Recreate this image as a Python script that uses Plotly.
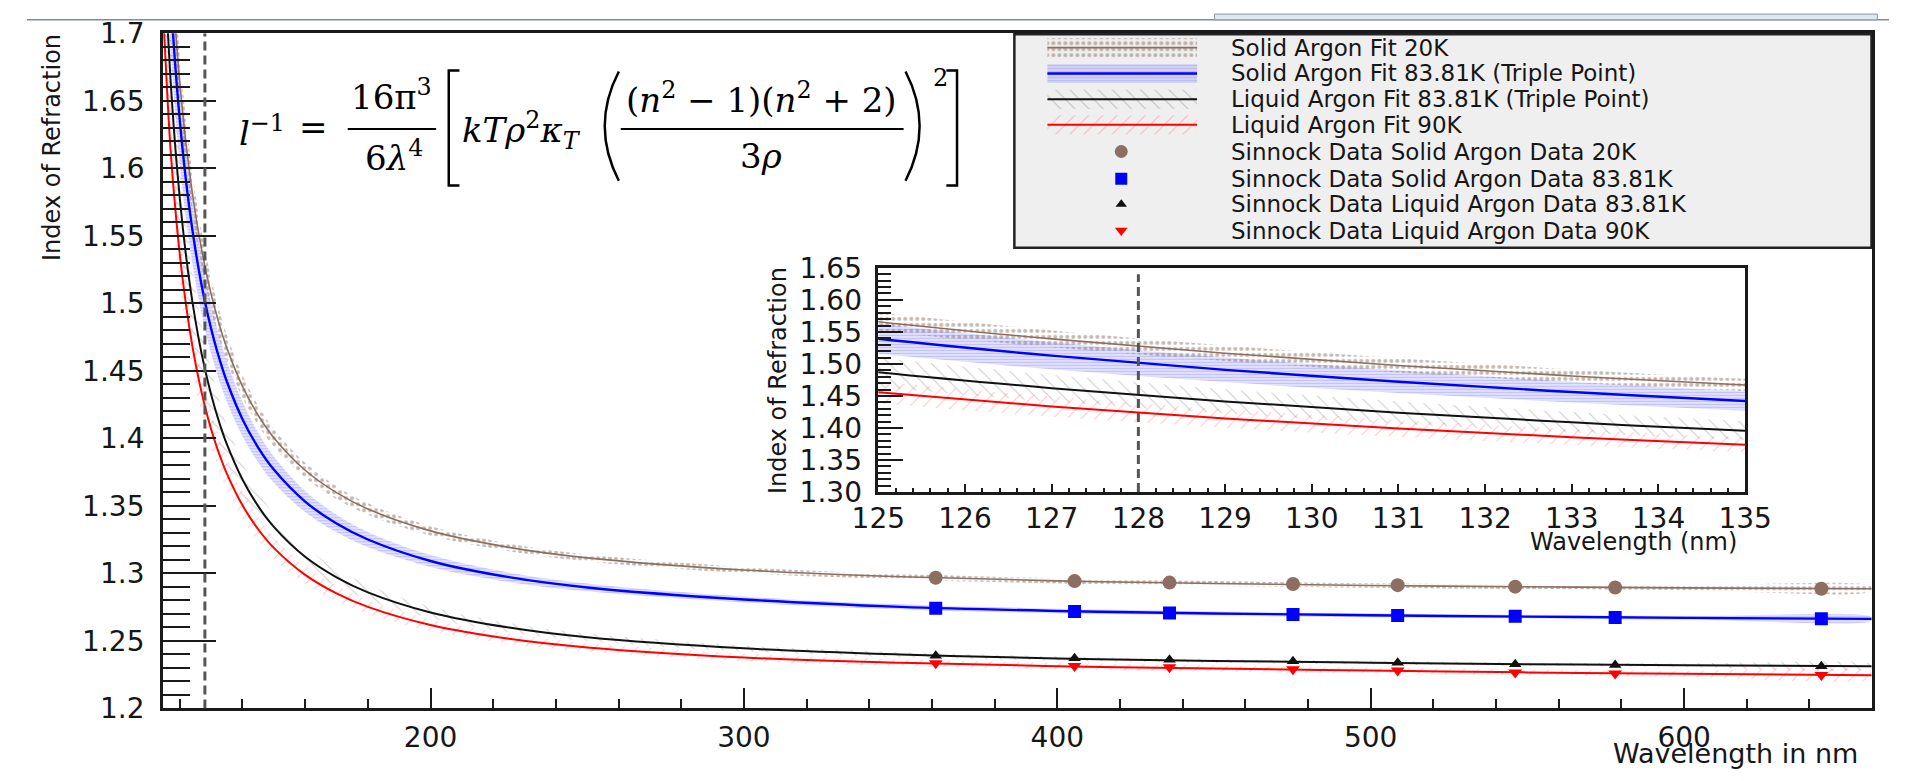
import plotly.graph_objects as go

W, H = 1916, 781

# ---------------------------------------------------------------------------
# Fitted index of refraction curves (nm, n) and their uncertainty half-widths
# ---------------------------------------------------------------------------
wavelength = [114, 115, 117, 119, 121, 123, 125, 127, 129, 131, 133, 135, 140, 145, 150,
              160, 170, 180, 200, 225, 250, 300, 350, 400, 450, 500, 550, 600, 660]

fit_solid_20k = [1.9216, 1.8573, 1.7609, 1.6917, 1.6395, 1.5988, 1.5660, 1.5392, 1.5167, 1.4976,
                 1.4812, 1.4670, 1.4385, 1.4171, 1.4005, 1.3764, 1.3598, 1.3477, 1.3315, 1.3193,
                 1.3115, 1.3025, 1.2975, 1.2945, 1.2925, 1.2911, 1.2901, 1.2893, 1.2886]
fit_solid_triple = [1.8882, 1.8252, 1.7305, 1.6626, 1.6114, 1.5714, 1.5393, 1.5129, 1.4908, 1.4721,
                    1.4561, 1.4421, 1.4142, 1.3932, 1.3769, 1.3532, 1.3369, 1.3251, 1.3092, 1.2972,
                    1.2896, 1.2807, 1.2752, 1.2722, 1.2703, 1.2690, 1.2680, 1.2671, 1.2663]
fit_liquid_triple = [1.8160, 1.7564, 1.6671, 1.6031, 1.5549, 1.5172, 1.4870, 1.4622, 1.4415, 1.4239,
                     1.4088, 1.3957, 1.3695, 1.3498, 1.3345, 1.3123, 1.2971, 1.2860, 1.2711, 1.2599,
                     1.2527, 1.2445, 1.2399, 1.2370, 1.2352, 1.2339, 1.2328, 1.2320, 1.2312]
fit_liquid_90k = [1.7456, 1.7000, 1.6153, 1.5588, 1.5161, 1.4826, 1.4556, 1.4335, 1.4149, 1.3992,
                  1.3857, 1.3739, 1.3504, 1.3327, 1.3189, 1.2989, 1.2852, 1.2752, 1.2618, 1.2516,
                  1.2452, 1.2377, 1.2338, 1.2313, 1.2295, 1.2281, 1.2267, 1.2257, 1.2246]

err_solid_20k = [0.0348, 0.0308, 0.0251, 0.0212, 0.0184, 0.0163, 0.0146, 0.0132, 0.0121, 0.0111,
                 0.0103, 0.0097, 0.0083, 0.0073, 0.0065, 0.0055, 0.0047, 0.0042, 0.0035, 0.0029,
                 0.0026, 0.0022, 0.0020, 0.0019, 0.0018, 0.0017, 0.0017, 0.0017, 0.0016]
err_solid_triple = [0.0583, 0.0515, 0.0417, 0.0350, 0.0301, 0.0264, 0.0235, 0.0211, 0.0192, 0.0176,
                    0.0162, 0.0150, 0.0127, 0.0110, 0.0097, 0.0078, 0.0065, 0.0056, 0.0044, 0.0035,
                    0.0029, 0.0022, 0.0019, 0.0017, 0.0015, 0.0014, 0.0013, 0.0013, 0.0012]
err_liquid_triple = [0.0576, 0.0509, 0.0412, 0.0346, 0.0297, 0.0261, 0.0232, 0.0209, 0.0190, 0.0174,
                     0.0160, 0.0149, 0.0126, 0.0109, 0.0096, 0.0077, 0.0065, 0.0056, 0.0043, 0.0034,
                     0.0029, 0.0022, 0.0019, 0.0016, 0.0015, 0.0014, 0.0013, 0.0013, 0.0012]
err_liquid_90k = [0.0403, 0.0359, 0.0295, 0.0250, 0.0218, 0.0193, 0.0174, 0.0158, 0.0145, 0.0134,
                  0.0124, 0.0116, 0.0101, 0.0089, 0.0080, 0.0067, 0.0058, 0.0052, 0.0043, 0.0037,
                  0.0033, 0.0029, 0.0026, 0.0025, 0.0024, 0.0023, 0.0022, 0.0022, 0.0022]

# Sinnock measurements
sinnock_wavelength = [361.2, 405.5, 435.8, 475.2, 508.6, 546.1, 578.0, 643.8]
sinnock_solid_20k = [1.2968, 1.2943, 1.2932, 1.2922, 1.2913, 1.2902, 1.2896, 1.2886]
sinnock_solid_triple = [1.2742, 1.2718, 1.2707, 1.2695, 1.2688, 1.2682, 1.2673, 1.2665]
sinnock_liquid_triple = [1.2390, 1.2372, 1.2361, 1.2349, 1.2339, 1.2328, 1.2321, 1.2313]
sinnock_liquid_90k = [1.2334, 1.2315, 1.2305, 1.2291, 1.2281, 1.2267, 1.2259, 1.2247]

fit_labels = ["Solid Argon Fit 20K", "Solid Argon Fit 83.81K (Triple Point)",
              "Liquid Argon Fit 83.81K (Triple Point)", "Liquid Argon Fit 90K"]
data_labels = ["Sinnock Data Solid Argon Data 20K", "Sinnock Data Solid Argon Data 83.81K",
               "Sinnock Data Liquid Argon Data 83.81K", "Sinnock Data Liquid Argon Data 90K"]

BROWN = "#8c6f60"
BLUE = "#0000ff"
BLACK = "#111111"
RED = "#ff0000"
TXT = "#161616"
SANS = "DejaVu Sans"
SERIF = "DejaVu Serif"


def xp(x):
    return x / W


def yp(y):
    return 1 - y / H


fits = [
    dict(fit=fit_solid_triple, err=err_solid_triple, color=BLUE, lw=2.4,
         pattern=dict(shape="-", fgcolor="rgba(70,70,255,0.5)", bgcolor="rgba(120,120,255,0.18)",
                      size=3, solidity=0.45)),
    dict(fit=fit_solid_20k, err=err_solid_20k, color=BROWN, lw=1.6,
         pattern=dict(shape=".", fgcolor=BROWN, bgcolor="rgba(0,0,0,0)", size=6, solidity=0.35)),
    dict(fit=fit_liquid_triple, err=err_liquid_triple, color=BLACK, lw=2.0,
         pattern=dict(shape="\\", fgcolor="rgba(0,0,0,0.4)", bgcolor="rgba(0,0,0,0)", size=10, solidity=0.1)),
    dict(fit=fit_liquid_90k, err=err_liquid_90k, color=RED, lw=2.0,
         pattern=dict(shape="/", fgcolor="rgba(255,0,0,0.45)", bgcolor="rgba(0,0,0,0)", size=10, solidity=0.1)),
]

fig = go.Figure()

for xa, ya in (("x", "y"), ("x2", "y2")):
    for s in fits:
        upper = [v + e for v, e in zip(s["fit"], s["err"])]
        lower = [v - e for v, e in zip(s["fit"], s["err"])]
        fig.add_trace(go.Scatter(
            x=wavelength + wavelength[::-1], y=upper + lower[::-1],
            xaxis=xa, yaxis=ya, mode="lines", fill="toself",
            line=dict(width=0, shape="spline"), fillpattern=s["pattern"],
            hoverinfo="skip", showlegend=False))
    for s in fits:
        fig.add_trace(go.Scatter(
            x=wavelength, y=s["fit"], xaxis=xa, yaxis=ya, mode="lines",
            line=dict(color=s["color"], width=s["lw"], shape="spline"), showlegend=False))

markers = [
    (sinnock_solid_20k, "circle", BROWN, 14),
    (sinnock_solid_triple, "square", BLUE, 13),
    (sinnock_liquid_triple, "triangle-up", BLACK, 11),
    (sinnock_liquid_90k, "triangle-down", RED, 12),
]
for vals, sym, col, size in markers:
    fig.add_trace(go.Scatter(
        x=sinnock_wavelength, y=vals, mode="markers",
        marker=dict(symbol=sym, color=col, size=size, line=dict(width=0)),
        showlegend=False))

# ---------------------------------------------------------------------------
# Legend box, drawn on its own pixel-scaled helper axes
# ---------------------------------------------------------------------------
LEG_L, LEG_R, LEG_T, LEG_B = 1016, 1898, 19, 242
rows = [33, 60, 87, 113.5, 141.5, 170, 196.5, 224]
sw_l, sw_r, sw_c = 1050, 1204, 1126

legend_fits = [fits[1], fits[0], fits[2], fits[3]]
for r, s in zip(rows[:4], legend_fits):
    fig.add_trace(go.Scatter(
        x=[sw_l, sw_r, sw_r, sw_l, sw_l], y=[r - 10, r - 10, r + 10, r + 10, r - 10],
        xaxis="x3", yaxis="y3", mode="lines", fill="toself", line=dict(width=0),
        fillpattern=s["pattern"], hoverinfo="skip", showlegend=False))
    fig.add_trace(go.Scatter(
        x=[sw_l, sw_r], y=[r, r], xaxis="x3", yaxis="y3", mode="lines",
        line=dict(color=s["color"], width=s["lw"]), showlegend=False))
for r, (vals, sym, col, size) in zip(rows[4:], markers):
    fig.add_trace(go.Scatter(
        x=[sw_c], y=[r], xaxis="x3", yaxis="y3", mode="markers",
        marker=dict(symbol=sym, color=col, size=size - 1), showlegend=False))

annotations = []
for r, label in zip(rows, fit_labels + data_labels):
    annotations.append(dict(x=xp(1237), y=yp(r), xref="paper", yref="paper", text=label,
                            showarrow=False, xanchor="left", yanchor="middle",
                            font=dict(family=SANS, size=23, color=TXT)))

# Axis titles
annotations += [
    dict(x=xp(1886), y=yp(770), xref="paper", yref="paper", text="Wavelength in nm",
         showarrow=False, xanchor="right", yanchor="middle", font=dict(family=SANS, size=27, color=TXT)),
    dict(x=xp(25), y=yp(137.5), xref="paper", yref="paper", text="Index of Refraction",
         textangle=-90, showarrow=False, xanchor="center", yanchor="middle",
         font=dict(family=SANS, size=24, color=TXT)),
    dict(x=xp(1762), y=yp(549), xref="paper", yref="paper", text="Wavelength (nm)",
         showarrow=False, xanchor="right", yanchor="middle", font=dict(family=SANS, size=24, color=TXT)),
    dict(x=xp(773), y=yp(381), xref="paper", yref="paper", text="Index of Refraction",
         textangle=-90, showarrow=False, xanchor="center", yanchor="middle",
         font=dict(family=SANS, size=24, color=TXT)),
]

# Rayleigh scattering length formula
EQ = dict(family=SERIF, size=34, color="#000000")
eq_parts = [
    ("<i>l</i><sup>−1</sup>", 216, 120, "left", EQ),
    ("=", 295, 116, "center", EQ),
    ("16π<sup>3</sup>", 375, 82, "center", EQ),
    ("6<i>λ</i><sup>4</sup>", 378, 146, "center", EQ),
    ("<i>kTρ</i><sup>2</sup><i>κ</i><sub><i>T</i></sub>", 446, 120, "left", EQ),
    ("(<i>n</i><sup>2</sup> − 1)(<i>n</i><sup>2</sup> + 2)", 756, 86, "center", EQ),
    ("3<i>ρ</i>", 755, 146, "center", EQ),
    ("2", 940, 65, "center", dict(family=SERIF, size=24, color="#000000")),
]
for txt, x, y, anchor, f in eq_parts:
    annotations.append(dict(x=xp(x), y=yp(y), xref="paper", yref="paper", text=txt,
                            showarrow=False, xanchor=anchor, yanchor="middle", font=f))


def P(x, y):
    return f"{xp(x):.5f},{yp(y):.5f}"


shapes = [
    # document strip above the figure
    dict(type="line", xref="paper", yref="paper", x0=0, x1=1, y0=yp(4), y1=yp(4),
         line=dict(color="#7d8d99", width=1.5)),
    dict(type="rect", xref="paper", yref="paper", x0=xp(1222), x1=xp(1904), y0=yp(4), y1=yp(-2),
         line=dict(color="#8a96a0", width=1), fillcolor="#dce9f0"),
    # legend frame
    dict(type="rect", xref="paper", yref="paper", x0=xp(LEG_L), x1=xp(LEG_R), y0=yp(LEG_B), y1=yp(LEG_T),
         line=dict(color="#222222", width=2.5), fillcolor="#efefef", layer="below"),
    # 128 nm markers
    dict(type="line", xref="x", yref="y", x0=128, x1=128, y0=1.2, y1=1.7,
         line=dict(color="#555555", width=3, dash="9px,5px")),
    dict(type="line", xref="x2", yref="y2", x0=128, x1=128, y0=1.3, y1=1.64,
         line=dict(color="#555555", width=3, dash="9px,5px")),
    # formula fraction bars, brackets and parentheses
    dict(type="line", xref="paper", yref="paper", x0=xp(330), x1=xp(421), y0=yp(118), y1=yp(118),
         line=dict(color="#000", width=2)),
    dict(type="line", xref="paper", yref="paper", x0=xp(611), x1=xp(902), y0=yp(118), y1=yp(118),
         line=dict(color="#000", width=2)),
    dict(type="path", xref="paper", yref="paper",
         path=f"M{P(445, 57)} L{P(434, 57)} L{P(434, 177)} L{P(445, 177)}",
         line=dict(color="#000", width=2.5)),
    dict(type="path", xref="paper", yref="paper",
         path=f"M{P(946, 57)} L{P(957, 57)} L{P(957, 177)} L{P(946, 177)}",
         line=dict(color="#000", width=2.5)),
    dict(type="path", xref="paper", yref="paper",
         path=f"M{P(609, 58)} Q{P(580, 115)} {P(609, 172)}",
         line=dict(color="#000", width=2.5)),
    dict(type="path", xref="paper", yref="paper",
         path=f"M{P(904, 58)} Q{P(933, 115)} {P(904, 172)}",
         line=dict(color="#000", width=2.5)),
]

main_font = dict(family=SANS, size=28, color=TXT)
inset_font = dict(family=SANS, size=28, color=TXT)
axis_common = dict(showgrid=False, zeroline=False, showline=True, mirror=True,
                   linecolor="#1a1a1a", ticks="inside", tickcolor="#1a1a1a")

fig.update_layout(
    width=W, height=H,
    margin=dict(l=0, r=0, t=0, b=0),
    paper_bgcolor="white", plot_bgcolor="rgba(0,0,0,0)",
    showlegend=False,
    xaxis=dict(domain=[xp(140), xp(1898)], range=[114.65, 659.8], anchor="y",
               tick0=0, dtick=100, ticklen=20, tickwidth=2, linewidth=3,
               minor=dict(tick0=0, dtick=20, ticklen=9, tickwidth=2, ticks="inside",
                          tickcolor="#1a1a1a"),
               ticklabelstandoff=2, tickfont=main_font, **axis_common),
    yaxis=dict(domain=[yp(723), yp(18)], range=[1.2, 1.7], anchor="x",
               tick0=1.2, dtick=0.05, ticklen=53, tickwidth=2, linewidth=3,
               minor=dict(tick0=1.2, dtick=0.01, ticklen=27, tickwidth=2, ticks="inside",
                          tickcolor="#1a1a1a"),
               ticklabelstandoff=10, tickfont=main_font, **axis_common),
    xaxis2=dict(domain=[xp(876), xp(1768)], range=[125, 135], anchor="y2",
                tick0=125, dtick=1, ticklen=8, tickwidth=2, linewidth=2.5,
                minor=dict(tick0=125, dtick=0.2, ticklen=4, tickwidth=1.5, ticks="inside",
                           tickcolor="#1a1a1a"),
                ticklabelstandoff=0, tickfont=inset_font, **axis_common),
    yaxis2=dict(domain=[yp(497), yp(263)], range=[1.3, 1.65], anchor="x2",
                tick0=1.3, dtick=0.05, tickformat=".2f", ticklen=25, tickwidth=2, linewidth=2.5,
                minor=dict(tick0=1.3, dtick=0.01, ticklen=13, tickwidth=1.5, ticks="inside",
                           tickcolor="#1a1a1a"),
                ticklabelstandoff=8, tickfont=inset_font, **axis_common),
    xaxis3=dict(domain=[xp(LEG_L), xp(LEG_R)], range=[LEG_L, LEG_R], anchor="y3", visible=False),
    yaxis3=dict(domain=[yp(LEG_B), yp(LEG_T)], range=[LEG_B, LEG_T], anchor="x3", visible=False),
    annotations=annotations,
    shapes=shapes,
)

fig.write_html("out.html")
